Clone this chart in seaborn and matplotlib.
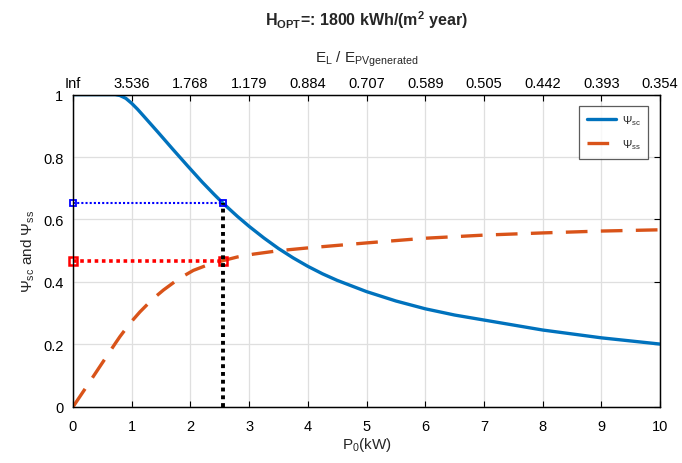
import matplotlib
matplotlib.use("Agg")
import matplotlib.pyplot as plt
import seaborn as sns
import pandas as pd

# ---- data ----
p0_sc = [0, 0.5, 0.72, 0.8, 0.9, 1.0, 1.1, 1.2, 1.45, 1.7, 1.95, 2.2, 2.4,
         2.55, 2.8, 3.0, 3.25, 3.5, 3.75, 4.0, 4.25, 4.5, 5.0, 5.5, 6.0, 6.5,
         7.0, 8.0, 9.0, 10.0]
psi_sc = [1.0, 1.0, 1.0, 0.997, 0.988, 0.972, 0.953, 0.932, 0.879, 0.825,
          0.772, 0.72, 0.681, 0.653, 0.61, 0.578, 0.541, 0.507, 0.477, 0.450,
          0.426, 0.405, 0.369, 0.339, 0.314, 0.294, 0.278, 0.246, 0.221, 0.201]
p0_ss = [0, 0.2, 0.5, 0.72, 0.8, 0.9, 1.0, 1.14, 1.35, 1.54, 1.8, 2.05, 2.3,
         2.55, 2.8, 3.07, 3.5, 4.0, 5.0, 6.0, 7.0, 8.0, 9.0, 10.0]
psi_ss = [0.0, 0.056, 0.141, 0.203, 0.225, 0.25, 0.274, 0.304, 0.344, 0.374,
          0.41, 0.437, 0.455, 0.468, 0.480, 0.489, 0.500, 0.509, 0.525, 0.540,
          0.550, 0.557, 0.563, 0.567]
opt_p0 = 2.55
opt_sc = 0.653
opt_ss = 0.468
x_ticks = [0, 1, 2, 3, 4, 5, 6, 7, 8, 9, 10]
y_ticks = [0, 0.2, 0.4, 0.6, 0.8, 1]
top_labels = ["Inf", "3.536", "1.768", "1.179", "0.884", "0.707", "0.589",
              "0.505", "0.442", "0.393", "0.354"]

df_sc = pd.DataFrame({"P0": p0_sc, "psi": psi_sc})
df_ss = pd.DataFrame({"P0": p0_ss, "psi": psi_ss})

sns.set_theme(style="white")
plt.rcParams["font.family"] = ["Liberation Sans", "DejaVu Sans"]
plt.rcParams["mathtext.default"] = "regular"

BLUE = "#0072BD"
ORANGE = "#D95319"

fig = plt.figure(figsize=(6.82, 4.64), dpi=100)
ax = fig.add_axes([0.107, 0.121, 0.861, 0.673])

ax.grid(True, color="#DFDFDF", lw=0.9)
ax.set_axisbelow(True)

sns.lineplot(data=df_sc, x="P0", y="psi", ax=ax, color=BLUE, lw=2.4,
             label=r"$\Psi_{sc}$", zorder=3)
sns.lineplot(data=df_ss, x="P0", y="psi", ax=ax, color=ORANGE, lw=2.4,
             label=r"$\Psi_{ss}$", zorder=3)
ax.lines[0].set_solid_joinstyle("round")
ax.lines[1].set_dashes([6.5, 4])

# marker lines
ax.plot([0, opt_p0], [opt_sc, opt_sc], color="blue", lw=1.5, ls=(0, (1, 1)),
        marker="s", ms=5, mfc="none", mec="blue", mew=1.3, zorder=4,
        clip_on=False)
ax.plot([0, opt_p0], [opt_ss, opt_ss], color="red", lw=2.6, ls=(0, (1, 1)),
        marker="s", ms=5.5, mfc="none", mec="red", mew=1.8, zorder=4,
        clip_on=False)
ax.plot([opt_p0, opt_p0], [0, opt_sc], color="black", lw=2.8, ls=(0, (1, 1)),
        zorder=4)

ax.set_xlim(0, 10)
ax.set_ylim(0, 1)
ax.set_xticks(x_ticks)
ax.set_yticks(y_ticks)
ax.set_xticklabels([str(v) for v in x_ticks])
ax.set_yticklabels(["0", "0.2", "0.4", "0.6", "0.8", "1"])
ax.set_xlabel(r"P$_0$(kW)", fontsize=11, labelpad=1)
ax.set_ylabel(r"$\Psi_{sc}$ and $\Psi_{ss}$", fontsize=11, labelpad=4)
ax.tick_params(direction="in", length=4, width=0.8, labelsize=10.5,
               right=True, colors="black")
ax.tick_params(axis="x", pad=9)
ax.tick_params(axis="y", pad=7, labelright=False)
for s in ax.spines.values():
    s.set_color("black")
    s.set_linewidth(0.9)

leg = ax.legend(loc="upper right", bbox_to_anchor=(0.98, 0.965), fontsize=8,
                frameon=True, fancybox=False, edgecolor="#333333",
                handlelength=2.6, borderpad=0.7, labelspacing=0.9,
                handletextpad=0.5, borderaxespad=0)
leg.get_frame().set_linewidth(0.9)

ax2 = ax.twiny()
ax2.set_xlim(0, 10)
ax2.set_xticks(x_ticks)
ax2.set_xticklabels(top_labels)
ax2.tick_params(direction="in", length=4, width=0.8, labelsize=10.5,
                colors="black", pad=3)
ax2.set_xlabel(r"E$_L$ / E$_{PVgenerated}$", fontsize=11, labelpad=11)
for s in ax2.spines.values():
    s.set_color("black")
    s.set_linewidth(0.9)
ax2.grid(False)

fig.text(0.537, 0.957, r"H$_{OPT}$=: 1800 kWh/(m$^2$ year)", ha="center",
         va="center", fontsize=11.5, fontweight="bold")

fig.savefig("out.png", dpi=100, facecolor="white")
